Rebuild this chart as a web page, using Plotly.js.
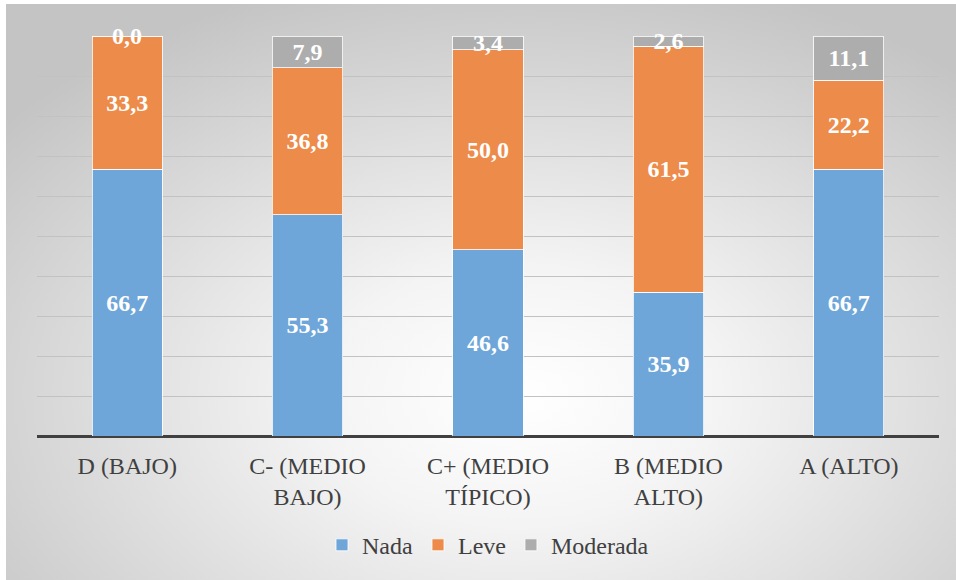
<!DOCTYPE html>
<html>
<head>
<meta charset="utf-8">
<script src="https://cdn.plot.ly/plotly-3.0.1.min.js"></script>
<style>
  html, body { margin: 0; padding: 0; background: #ffffff; overflow: hidden; }
  #wrap { position: absolute; left: 6px; top: 4px; width: 950px; height: 576px;
    background: radial-gradient(ellipse 70% 75% at 54% 68%, #ffffff 0%, #f4f4f4 30%, #dcdcdc 65%, #c4c4c4 100%); }
  #chart { position: absolute; left: -6px; top: -4px; width: 956px; height: 580px; }
  #warm { position: absolute; left: -3000px; top: 0; font-family: 'Liberation Serif', serif; font-size: 23px; }
</style>
</head>
<body>
<div id="warm" aria-hidden="true">Nada <b>Nada</b></div>
<div id="wrap"><div id="chart"></div></div>
<script>
const categories = ["D (BAJO)", "C- (MEDIO<br>BAJO)", "C+ (MEDIO<br>TÍPICO)", "B (MEDIO<br>ALTO)", "A (ALTO)"];
const nada = [66.7, 55.3, 46.6, 35.9, 66.7];
const leve = [33.3, 36.8, 50.0, 61.5, 22.2];
const moderada = [0.0, 7.9, 3.4, 2.6, 11.1];

const fmt = v => v.toFixed(1).replace('.', ',');
const serif = 'Liberation Serif, Tinos, Times New Roman, Times, DejaVu Serif, serif';
const labelFont = { family: serif, size: 24, color: '#ffffff', weight: 'bold' };

function mk(name, vals, color) {
  return {
    type: 'bar', name: name, x: categories, y: vals,
    marker: { color: color, line: { color: 'rgba(255,255,255,0.8)', width: 1 } },
    width: 0.39,
    text: vals.map(fmt), textposition: 'inside', insidetextanchor: 'middle',
    constraintext: 'none', cliponaxis: false,
    textfont: labelFont,
    hoverinfo: 'none'
  };
}

function build() {
  const data = [
    mk('Nada', nada, '#6fa6d9'),
    mk('Leve', leve, '#ed8b4a'),
    mk('Moderada', moderada, '#adadad')
  ];
  // labels for zero-height segments (bar text is not drawn for them)
  const annotations = [];
  moderada.forEach((v, i) => {
    if (v === 0) {
      annotations.push({ x: categories[i], y: nada[i] + leve[i], xref: 'x', yref: 'y',
        text: fmt(v), showarrow: false, font: labelFont, yanchor: 'middle' });
    }
  });
  const layout = {
    barmode: 'stack',
    width: 956, height: 580,
    margin: { l: 37, r: 17, t: 36, b: 141 },
    paper_bgcolor: 'rgba(0,0,0,0)',
    plot_bgcolor: 'rgba(0,0,0,0)',
    showlegend: true,
    annotations: annotations,
    legend: { orientation: 'h', x: 0.5, xanchor: 'center', y: -0.273, yanchor: 'middle',
      font: { family: serif, size: 24, color: '#404040' }, itemwidth: 30, traceorder: 'normal' },
    xaxis: {
      type: 'category', tickfont: { family: serif, size: 24, color: '#404040' },
      showline: false, ticks: '', zeroline: false, ticklabelstandoff: 13
    },
    yaxis: {
      range: [0, 100], tick0: 0, dtick: 10, showticklabels: false,
      gridcolor: '#c2c2c2', gridwidth: 1, zeroline: true, zerolinecolor: '#404040', zerolinewidth: 3,
      showline: false, ticks: ''
    },
    font: { family: serif, color: '#404040' }
  };
  return { data, layout };
}

const cfg = { displayModeBar: false, staticPlot: true };
function draw() {
  const f = build();
  Plotly.purge('chart');
  Plotly.newPlot('chart', f.data, f.layout, cfg);
}
draw();
if (document.fonts && document.fonts.load) {
  Promise.all([
    document.fonts.load('24px "Liberation Serif"', 'Nada'),
    document.fonts.load('bold 24px "Liberation Serif"', '0,1')
  ]).then(draw).catch(() => {});
}
</script>
</body>
</html>
